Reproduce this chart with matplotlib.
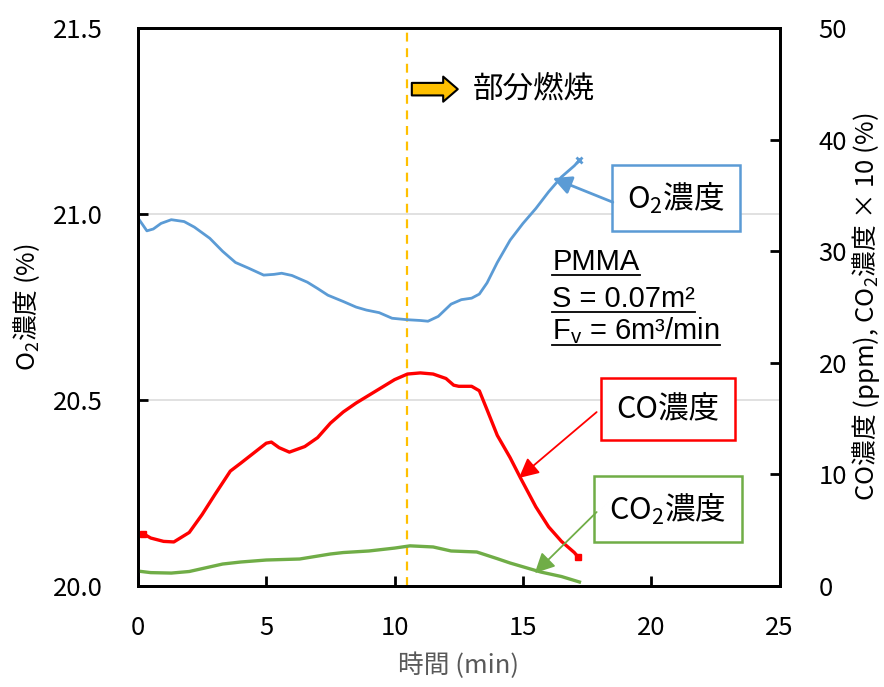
import matplotlib
matplotlib.use("Agg")
import matplotlib.pyplot as plt
from matplotlib.lines import Line2D

# O2 concentration (%), left axis
o2_time = [0.0, 0.15, 0.35, 0.6, 0.9, 1.3, 1.8, 2.2, 2.8, 3.3, 3.8, 4.3, 4.9, 5.3, 5.6, 6.0, 6.6,
           7.0, 7.4, 8.0, 8.5, 8.9, 9.4, 9.9, 10.5, 11.0, 11.3, 11.7, 12.2, 12.6, 13.0, 13.3, 13.6,
           14.0, 14.5, 15.0, 15.5, 16.0, 16.5, 17.0, 17.2]
o2_vals = [20.99, 20.975, 20.955, 20.96, 20.975, 20.985, 20.98, 20.965, 20.935, 20.9, 20.87,
           20.855, 20.836, 20.838, 20.841, 20.835, 20.817, 20.80, 20.782, 20.765, 20.75, 20.742,
           20.735, 20.72, 20.716, 20.714, 20.712, 20.725, 20.758, 20.77, 20.774, 20.785, 20.815,
           20.87, 20.93, 20.975, 21.015, 21.06, 21.1, 21.13, 21.145]

# CO concentration (ppm), right axis
co_time = [0.2, 0.5, 1.0, 1.4, 2.0, 2.5, 3.0, 3.6, 4.0, 4.5, 5.0, 5.2, 5.5, 5.9, 6.5, 7.0, 7.5,
           8.0, 8.5, 9.0, 9.5, 10.0, 10.5, 11.0, 11.5, 12.0, 12.3, 12.5, 13.0, 13.3, 13.6, 14.0,
           14.5, 14.9, 15.5, 16.0, 16.5, 17.0, 17.15]
co_vals = [4.7, 4.3, 4.0, 3.95, 4.8, 6.4, 8.2, 10.3, 11.0, 11.9, 12.8, 12.9, 12.4, 12.0, 12.5,
           13.3, 14.6, 15.6, 16.4, 17.1, 17.8, 18.5, 19.0, 19.1, 19.0, 18.6, 18.0, 17.9, 17.9,
           17.5, 15.8, 13.5, 11.5, 9.7, 7.1, 5.3, 4.0, 3.0, 2.6]

# CO2 concentration x 10 (%), right axis
co2_time = [0.0, 0.5, 1.3, 2.0, 3.3, 4.0, 5.0, 6.3, 7.5, 8.0, 9.0, 10.0, 10.6, 11.5, 12.2, 13.2,
            14.0, 14.5, 15.7, 16.5, 17.2]
co2_vals = [1.34, 1.2, 1.16, 1.3, 1.97, 2.15, 2.33, 2.42, 2.87, 3.0, 3.14, 3.4, 3.6, 3.5, 3.14,
            3.05, 2.45, 2.06, 1.25, 0.85, 0.36]

x_ticks = [0, 5, 10, 15, 20, 25]
o2_ticks = [20.0, 20.5, 21.0, 21.5]
right_ticks = [0, 10, 20, 30, 40, 50]
ignition_time = 10.5

blue = "#5B9BD5"
red = "#FF0000"
green = "#70AD47"
gold = "#FFC000"

cjk = ["Noto Sans CJK JP", "DejaVu Sans"]
arial = ["Liberation Sans", "Noto Sans CJK JP", "DejaVu Sans"]
plt.rcParams["font.family"] = cjk

fig = plt.figure(figsize=(8.84, 6.87), dpi=100)
ax = fig.add_axes([0.156, 0.147, 0.726, 0.812])
ax2 = ax.twinx()

ax.set_xlim(0, 25)
ax.set_ylim(20.0, 21.5)
ax2.set_ylim(0, 50)
ax.set_xticks(x_ticks)
ax.set_yticks(o2_ticks)
ax.set_yticklabels([f"{v:.1f}" for v in o2_ticks])
ax2.set_yticks(right_ticks)

ax.set_axisbelow(True)
ax.yaxis.grid(True, color="#D9D9D9", lw=1.1)

for a in (ax, ax2):
    for s in a.spines.values():
        s.set_linewidth(2.0)
        s.set_color("black")
ax.tick_params(axis="both", direction="in", length=7, width=2, labelsize=18.5)
ax.tick_params(axis="x", pad=21)
ax.tick_params(axis="y", pad=25)
ax2.tick_params(axis="y", direction="in", length=7, width=2, labelsize=18.5, pad=28)

ax.axvline(ignition_time, color=gold, lw=1.6, ls=(0, (4, 3)), zorder=1)

ax.plot(o2_time, o2_vals, color=blue, lw=2.0, marker="x", markevery=[-1], ms=4, mew=2)
ax2.plot(co_time, co_vals, color=red, lw=2.4, marker="s", markevery=[0, -1], ms=5)
ax2.plot(co2_time, co2_vals, color=green, lw=2.4)

ax.set_xlabel("時間 (min)", fontsize=18.5, color="#595959", labelpad=8)
ax.set_ylabel(r"O$_\mathregular{2}$濃度 (%)", fontsize=18.5, labelpad=8)
ax2.set_ylabel(r"CO濃度 (ppm), CO$_\mathregular{2}$濃度 × 10 (%)", fontsize=18.5, labelpad=2)

# partial combustion marker
ax.annotate("", xy=(12.46, 21.336), xytext=(10.67, 21.336),
            arrowprops=dict(arrowstyle="simple,head_length=0.5,head_width=0.86,tail_width=0.43",
                            mutation_scale=21, fc=gold, ec="black", lw=1.5,
                            shrinkA=0, shrinkB=0))
ax.text(13.05, 21.336, "部分燃焼", fontsize=22, va="center", ha="left")

# labelled boxes with arrows
box_font = dict(fontsize=22, ha="center", va="center")
ax.text(20.95, 21.043, r"O$_\mathregular{2}$濃度", **box_font,
        bbox=dict(boxstyle="square,pad=0.5", fc="white", ec=blue, lw=1.8))
ax.annotate("", xy=(16.16, 21.097), xytext=(18.5, 21.032),
            arrowprops=dict(arrowstyle="-|>", color=blue, lw=2, mutation_scale=28,
                            shrinkA=0, shrinkB=0))

ax2.text(20.64, 15.86, "CO濃度", **box_font,
         bbox=dict(boxstyle="square,pad=0.5", fc="white", ec=red, lw=1.8))
ax2.annotate("", xy=(14.84, 9.68), xytext=(17.87, 15.59),
             arrowprops=dict(arrowstyle="-|>", color=red, lw=1.3, mutation_scale=30,
                             shrinkA=0, shrinkB=0))

ax2.text(20.64, 6.9, r"CO$_\mathregular{2}$濃度", **box_font,
         bbox=dict(boxstyle="square,pad=0.5", fc="white", ec=green, lw=1.8))
ax2.annotate("", xy=(15.46, 1.16), xytext=(17.87, 6.63),
             arrowprops=dict(arrowstyle="-|>", color=green, lw=1.3, mutation_scale=30,
                             shrinkA=0, shrinkB=0))

# sample conditions, underlined
cond_lines = ["PMMA", "S = 0.07m²", r"F$_\mathregular{v}$ = 6m³/min"]
cond_y = [0.581, 0.515, 0.457]
cond_texts = []
for s, y in zip(cond_lines, cond_y):
    cond_texts.append(ax.text(0.646, y, s, transform=ax.transAxes, fontsize=21,
                              family=arial, ha="left", va="center"))

fig.canvas.draw()
r = fig.canvas.get_renderer()
for t in cond_texts:
    bb = t.get_window_extent(r)
    y0 = bb.y0 + 1
    fig.add_artist(Line2D([bb.x0, bb.x1], [y0, y0], transform=None, color="black", lw=1.3))

fig.savefig("out.png", dpi=100)
